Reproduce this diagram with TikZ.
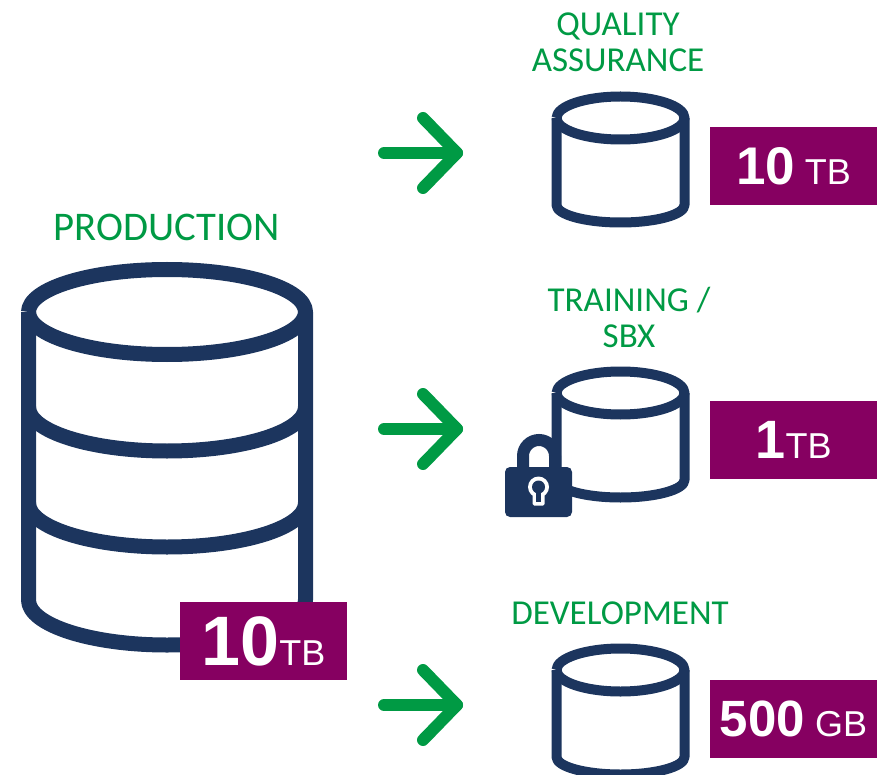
\documentclass[tikz,border=0pt]{standalone}
\usepackage{fontspec}
\setmainfont{Carlito}
\newfontfamily\boxfont{Liberation Sans}
\definecolor{navy}{HTML}{1C355E}
\definecolor{grn}{HTML}{009A44}
\definecolor{plum}{HTML}{860061}
\newcommand{\smallcyl}[1]{%
  \draw[cyl] (556.5,#1) arc[x radius=64,y radius=21.5,start angle=180,end angle=-180];
  \draw[cyl] (556.5,#1) -- (556.5,#1+87) arc[x radius=64,y radius=17.5,start angle=180,end angle=0] -- (684.5,#1);
}
\begin{document}
\begin{tikzpicture}[x=1pt,y=-1pt,
  cyl/.style={draw=navy,line width=10pt,line join=round},
  bigcyl/.style={draw=navy,line width=15pt,line join=round},
  arrowline/.style={draw=grn,line width=12pt,line cap=round,line join=round},
  tag/.style={fill=plum,text=white,minimum width=167pt,minimum height=78pt,inner sep=0pt,font=\boxfont},
  title/.style={text=grn,font=\fontsize{35}{36}\selectfont,align=center,inner sep=0pt}]
\useasboundingbox (0,0) rectangle (880,775);
% big cylinder
\draw[bigcyl] (28.5,312) arc[x radius=138.5,y radius=42.5,start angle=180,end angle=-180];
\draw[bigcyl] (28.5,312) -- (28.5,600) arc[x radius=138.5,y radius=45,start angle=180,end angle=0] -- (305.5,312);
\draw[bigcyl] (28.5,407) arc[x radius=138.5,y radius=44,start angle=180,end angle=0];
\draw[bigcyl] (28.5,503) arc[x radius=138.5,y radius=44,start angle=180,end angle=0];
% small cylinders
\smallcyl{118}
\smallcyl{393}
\smallcyl{670}
% lock
\draw[navy,line width=12pt] (523,470) -- (523,456) arc[radius=16,start angle=180,end angle=360] -- (555,470);
\fill[navy,rounded corners=5pt] (505,467) rectangle (572,517);
\fill[white] (538.5,487) circle[radius=10.5];
\fill[white,rounded corners=1.5pt] (532.5,487) rectangle (544.5,505.5);
\fill[navy] (538.5,487) circle[radius=6.5];
\fill[navy] (535.8,487) rectangle (541.2,501.5);
% arrows
\coordinate (a1s) at (384,153); \coordinate (a1t) at (457,153);
\coordinate (a2s) at (384,429); \coordinate (a2t) at (457,429);
\coordinate (a3s) at (384,705); \coordinate (a3t) at (457,705);
\foreach \s/\t/\y in {a1s/a1t/153,a2s/a2t/429,a3s/a3t/705}{
  \draw[arrowline] (\s) -- (\t);
  \draw[arrowline] (423,\y-35) -- (\t) -- (423,\y+35);
}
% tags
\node[tag] (t0) at (263.5,641) {\fontsize{70}{70}\selectfont\bfseries 10\fontsize{36}{36}\selectfont\mdseries TB};
\node[tag] (t1) at (793.5,166) {\raisebox{-4pt}{\fontsize{53}{53}\selectfont\bfseries 10\fontsize{36}{36}\selectfont\mdseries\ TB}};
\node[tag] (t2) at (793.5,440) {\raisebox{-2pt}{\fontsize{54}{54}\selectfont\bfseries 1\fontsize{36}{36}\selectfont\mdseries TB}};
\node[tag] (t3) at (793.5,719) {\raisebox{-3pt}{\fontsize{51}{51}\selectfont\bfseries 500\fontsize{36}{36}\selectfont\mdseries\ GB}};
% titles
\node[title,font=\fontsize{40.7}{41}\selectfont] (n0) at (166.5,227) {PRODUCTION};
\node[title] (n1) at (618,42) {QUALITY\\ASSURANCE};
\node[title] (n2) at (629,317) {TRAINING /\\SBX};
\node[title] (n3) at (620,613) {DEVELOPMENT};
\end{tikzpicture}
\end{document}
